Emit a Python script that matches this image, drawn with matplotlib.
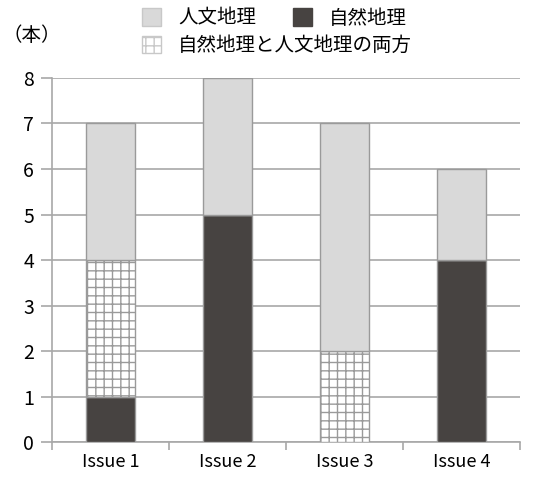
import numpy as np
import matplotlib.pyplot as plt
from matplotlib.patches import Patch

plt.rcParams['font.family'] = ['Noto Sans CJK JP', 'DejaVu Sans']
plt.rcParams['hatch.color'] = '#a0a0a0'
plt.rcParams['hatch.linewidth'] = 1.0

issues = ['Issue 1', 'Issue 2', 'Issue 3', 'Issue 4']
physical = [1, 5, 0, 4]     # 自然地理
both = [3, 0, 2, 0]         # 自然地理と人文地理の両方
human = [3, 3, 5, 2]        # 人文地理

fig = plt.figure(figsize=(5.36, 4.78), dpi=100)
ax = fig.add_axes([0.097, 0.075, 0.873, 0.762])

x = np.arange(len(issues))
w = 0.42
edge = '#9a9a9a'
ax.bar(x, physical, w, color='#474341', edgecolor=edge, linewidth=1, zorder=3)
ax.bar(x, both, w, bottom=physical, color='white', edgecolor=edge,
       hatch='++', linewidth=1, zorder=3)
bottom2 = np.array(physical) + np.array(both)
ax.bar(x, human, w, bottom=bottom2, color='#d9d9d9', edgecolor=edge,
       linewidth=1, zorder=3)

ax.set_xlim(-0.5, len(issues) - 0.5)
ax.set_ylim(0, 8)
ax.set_yticks(range(9))
ax.yaxis.grid(True, color='#a8a8a8', linewidth=1.2, zorder=0)
ax.set_xticks(x)
ax.set_xticklabels(issues)
ax.set_xticks(np.arange(-0.5, len(issues)), minor=True)
ax.tick_params(axis='x', which='major', length=0, pad=8, labelsize=13)
ax.tick_params(axis='x', which='minor', length=6, color='#a8a8a8', width=1.2)
ax.tick_params(axis='y', length=8, color='#a8a8a8', width=1.2, labelsize=14, pad=5)
for s in ['top', 'right']:
    ax.spines[s].set_visible(False)
for s in ['left', 'bottom']:
    ax.spines[s].set_color('#a8a8a8')
    ax.spines[s].set_linewidth(1.2)

fig.text(0.005, 0.925, '（本）', fontsize=14, ha='left', va='center')

h1 = [Patch(facecolor='#d9d9d9', edgecolor='#c8c8c8', label='人文地理'),
      Patch(facecolor='#474341', edgecolor='#474341', label='自然地理')]
fig.legend(handles=h1, loc='center left', bbox_to_anchor=(0.265, 0.962),
           ncol=2, frameon=False, fontsize=14, handlelength=1.0,
           handleheight=1.0, handletextpad=0.85, columnspacing=1.9,
           borderpad=0, borderaxespad=0)
h2 = [Patch(facecolor='white', edgecolor='#c8c8c8', hatch='++',
            label='自然地理と人文地理の両方')]
fig.legend(handles=h2, loc='center left', bbox_to_anchor=(0.265, 0.905),
           frameon=False, fontsize=14, handlelength=1.0, handleheight=1.0,
           handletextpad=0.85, borderpad=0, borderaxespad=0)

fig.savefig('out.png', dpi=100)
